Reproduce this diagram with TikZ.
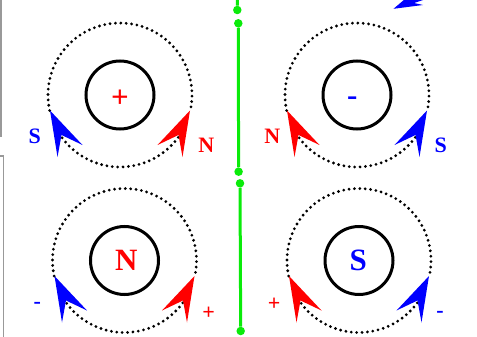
\documentclass[tikz,border=0pt]{standalone}
\usepackage{fontspec}
\setmainfont{Liberation Serif}
\definecolor{gr}{RGB}{10,235,10}
\definecolor{bl}{RGB}{0,0,255}
\definecolor{rd}{RGB}{255,0,0}
\begin{document}
\begin{tikzpicture}[x=1pt,y=-1pt,
  dotring/.style={line width=3.1pt,line cap=round,dash pattern=on 0pt off 5.4pt},
  core/.style={line width=3pt},
  gline/.style={draw=gr,line width=3pt},
  gdot/.style={circle,fill=gr,inner sep=0pt,minimum size=8.5pt},
  big/.style={inner sep=0pt,font=\fontsize{31}{33}\selectfont\bfseries},
  small/.style={inner sep=0pt,font=\fontsize{22}{24}\selectfont\bfseries},
  pics/coil/.style 2 args={code={
    \draw[dotring] (167.5:72) arc[start angle=167.5,end angle=372.5,radius=72];
    \draw[dotring] (36:72) arc[start angle=36,end angle=144,radius=72];
    \draw[core] (0,0) circle[radius=34];
    \fill[#1] (-70,15.5) -- (-62.5,62) -- (-58.5,40) -- (-37.5,50) -- cycle;
    \fill[#2] (70,15.5) -- (62.5,62) -- (58.5,40) -- (37.5,50) -- cycle;
  }}]
\useasboundingbox (0,0) rectangle (477,337);
\clip (0,0) rectangle (477,337);
% frame remnants at the left edge
\draw[gray!80,line width=1.5pt] (1,0) -- (1,136.5);
\draw[gray!80,line width=1.5pt] (0,156) -- (3.5,156) -- (3.5,340);
% four coils
\pic at (120,95) {coil={bl}{rd}};
\pic at (357,95) {coil={rd}{bl}};
\pic at (124.5,260.5) {coil={bl}{rd}};
\pic at (359,260.5) {coil={rd}{bl}};
% inner labels
\node[big,text=rd] (tlc) at (120,99) {+};
\node[big,text=bl,anchor=base] (trc) at (352.2,105.2) {-};
\node[big,text=rd] (blc) at (126.3,260.5) {N};
\node[big,text=bl] (brc) at (358.3,260.5) {S};
% outer labels
\node[small,text=bl] (tls) at (34.7,136.7) {S};
\node[small,text=rd] (tln) at (206.2,145.5) {N};
\node[small,text=rd] (trn) at (272.2,136.2) {N};
\node[small,text=bl] (trs) at (440.8,145) {S};
\node[small,text=bl,anchor=base] (blm) at (37.2,308.7) {-};
\node[small,text=rd] (blp) at (208.7,312.8) {+};
\node[small,text=rd] (brp) at (274.2,303.8) {+};
\node[small,text=bl,anchor=base] (brm) at (440,317.7) {-};
% green conductor
\coordinate (g0) at (237.5,-3);
\node[gdot] (g1) at (237.3,10) {};
\node[gdot] (g2) at (238.3,23.3) {};
\node[gdot] (g3) at (238.6,171.7) {};
\node[gdot] (g4) at (240,183.3) {};
\node[gdot] (g5) at (240.7,331) {};
\draw[gline] (g0) -- (g1);
\draw[gline] (g2) -- (g3);
\draw[gline] (g4) -- (g5);
% partial arrow at the top right
\fill[bl] (393.5,8.8) -- (423,5) -- (414,3) -- (426,-1) -- (405,-1) -- cycle;
\end{tikzpicture}
\end{document}
